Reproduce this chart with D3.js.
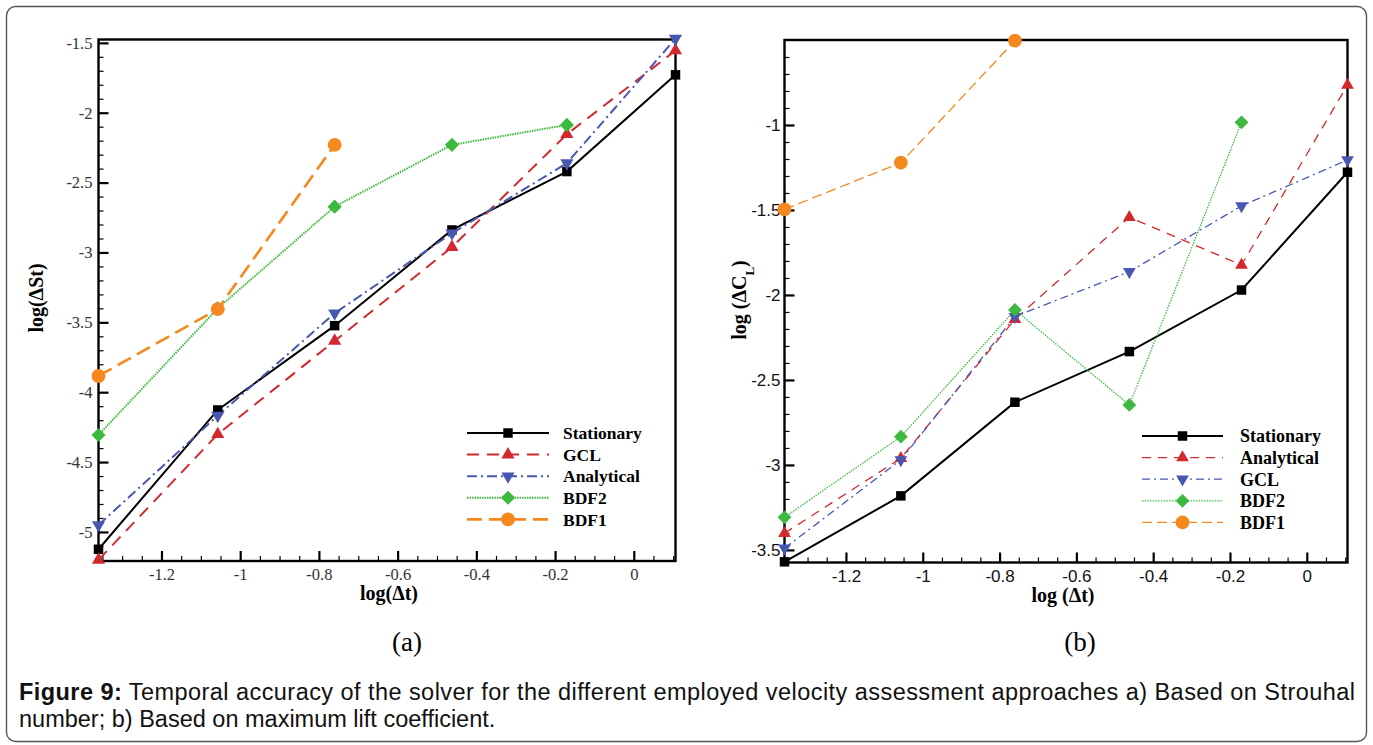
<!DOCTYPE html>
<html>
<head>
<meta charset="utf-8">
<script src="https://cdn.jsdelivr.net/npm/d3@7"></script>
<style>
  body { margin: 0; background: #fff; }
  svg { display: block; }
</style>
</head>
<body>
<svg id="fig" width="1373" height="745"></svg>
<script>
// log10 of the time step, shared by both panels
var logDt = [-1.36, -1.057, -0.76, -0.462, -0.17, 0.106];

// panel (a): log of the Strouhal number error
var stStationary = [-5.124, -4.127, -3.524, -2.839, -2.421, -1.729];
var stGCL        = [-5.2, -4.301, -3.633, -2.962, -2.154, -1.555];
var stAnalytical = [-4.95, -4.168, -3.435, -2.862, -2.361, -1.47];
var stBDF2       = [-4.306, -3.4, -2.672, -2.23, -2.087];
var stBDF1       = [-3.884, -3.406, -2.23];

// panel (b): log of the max lift coefficient error
var clStationary = [-3.57, -3.182, -2.631, -2.333, -1.971, -1.278];
var clAnalytical = [-3.402, -2.961, -2.143, -1.543, -1.824, -0.765];
var clGCL        = [-3.49, -2.97, -2.127, -1.863, -1.476, -1.206];
var clBDF2       = [-3.308, -2.834, -2.088, -2.647, -0.984];
var clBDF1       = [-1.496, -1.222, -0.504];

var xTicks  = [-1.2, -1, -0.8, -0.6, -0.4, -0.2, 0];
var stTicks = [-5, -4.5, -4, -3.5, -3, -2.5, -2, -1.5];
var clTicks = [-3.5, -3, -2.5, -2, -1.5, -1];

var legendA = ['Stationary', 'GCL', 'Analytical', 'BDF2', 'BDF1'];
var legendB = ['Stationary', 'Analytical', 'GCL', 'BDF2', 'BDF1'];

var RED = '#d3282c', BLUE = '#4858b0', GREEN = '#3dba3d', ORANGE = '#f5881f';
var SERIF = '"Liberation Serif", "Times New Roman", serif';
var SANS = '"Liberation Sans", Arial, sans-serif';

var svg = d3.select('#fig');

// outer card
svg.append('rect')
  .attr('x', 6.5).attr('y', 6.5)
  .attr('width', 1360).attr('height', 735)
  .attr('rx', 9)
  .attr('fill', 'none')
  .attr('stroke', '#555')
  .attr('stroke-width', 1.4);

function symbolPath(kind, size) {
  var type = {
    square: d3.symbolSquare, up: d3.symbolTriangle, down: d3.symbolTriangle,
    diamond: d3.symbolSquare, circle: d3.symbolCircle
  }[kind];
  return d3.symbol().type(type).size(size)();
}
function symbolRotate(kind) {
  if (kind === 'down') return 180;
  if (kind === 'diamond') return 45;
  return 0;
}

function range(lo, hi, step) {
  var out = [];
  for (var i = Math.ceil(lo / step - 1e-6); i * step <= hi + 1e-6; i++) out.push(+(i * step).toFixed(3));
  return out;
}

function drawPanel(o) {
  var g = svg.append('g');
  var x = d3.scaleLinear().domain([logDt[0], logDt[5]]).range(o.xRange);
  var y = d3.scaleLinear().domain(o.yDomain).range(o.yRange);

  var x0 = o.xRange[0], x1 = o.xRange[1], yTop = o.yRange[1], yBot = o.yRange[0];

  // minor and major ticks, all pointing into the plot
  var xMinor = range(-1.35, 0.1, 0.05).filter(function(v) { return xTicks.indexOf(v) < 0; });
  var yMinor = range(o.yDomain[0], o.yDomain[1], 0.1).filter(function(v) {
    return Math.abs(v * 2 - Math.round(v * 2)) > 1e-6;
  });

  g.append('g').attr('class', 'minor').attr('transform', 'translate(0,' + yBot + ')')
    .call(d3.axisBottom(x).tickValues(xMinor).tickSize(-5).tickFormat(''));
  g.append('g').attr('class', 'minor').attr('transform', 'translate(' + x0 + ',0)')
    .call(d3.axisLeft(y).tickValues(yMinor).tickSize(-5).tickFormat(''));

  g.append('g').attr('class', 'major').attr('transform', 'translate(0,' + yBot + ')')
    .call(d3.axisBottom(x).tickValues(xTicks).tickSize(-10).tickPadding(7)
      .tickFormat(function(d) { return String(d); }));
  g.append('g').attr('class', 'major').attr('transform', 'translate(' + x0 + ',0)')
    .call(d3.axisLeft(y).tickValues(o.yTicks).tickSize(-10).tickPadding(o.yPad)
      .tickFormat(function(d) { return String(d); }));

  g.selectAll('.domain').remove();
  g.selectAll('.minor line').attr('stroke', '#000').attr('stroke-width', 1.2);
  g.selectAll('.major line').attr('stroke', '#000').attr('stroke-width', 2.2);
  g.selectAll('.major text')
    .style('font-family', o.tickFont)
    .style('font-size', o.tickSize + 'px')
    .attr('fill', o.tickColor);

  // plot frame
  g.append('rect')
    .attr('x', x0).attr('y', yTop)
    .attr('width', x1 - x0).attr('height', yBot - yTop)
    .attr('fill', 'none').attr('stroke', '#000').attr('stroke-width', 2.4);

  var line = d3.line()
    .x(function(d, i) { return x(logDt[i]); })
    .y(function(d) { return y(d); });

  o.series.forEach(function(s) {
    g.append('path')
      .datum(s.values)
      .attr('d', line)
      .attr('fill', 'none')
      .attr('stroke', s.color)
      .attr('stroke-width', s.width)
      .attr('stroke-dasharray', s.dash);
  });
  o.series.forEach(function(s) {
    g.selectAll(null)
      .data(s.values)
      .enter().append('path')
      .attr('d', symbolPath(s.mark, s.size))
      .attr('transform', function(d, i) {
        return 'translate(' + x(logDt[i]) + ',' + y(d) + ') rotate(' + symbolRotate(s.mark) + ')';
      })
      .attr('fill', s.color);
  });

  // legend
  var leg = g.append('g');
  o.legend.forEach(function(name, i) {
    var s = o.series.filter(function(d) { return d.name === name; })[0];
    var ly = o.legendY + i * o.legendStep;
    leg.append('line')
      .attr('x1', o.legendX[0]).attr('x2', o.legendX[1])
      .attr('y1', ly).attr('y2', ly)
      .attr('stroke', s.color)
      .attr('stroke-width', s.width)
      .attr('stroke-dasharray', s.dash);
    leg.append('path')
      .attr('d', symbolPath(s.mark, s.size))
      .attr('transform', 'translate(' + ((o.legendX[0] + o.legendX[1]) / 2) + ',' + ly + ') rotate(' + symbolRotate(s.mark) + ')')
      .attr('fill', s.color);
    leg.append('text')
      .attr('x', o.legendX[2]).attr('y', ly)
      .attr('dy', '0.35em')
      .style('font-family', SERIF)
      .attr('font-weight', 'bold')
      .attr('font-size', o.legendFont)
      .text(name);
  });

  // axis titles
  g.append('text')
    .attr('x', o.xTitle[0]).attr('y', o.xTitle[1])
    .attr('text-anchor', 'middle')
    .style('font-family', SERIF)
    .attr('font-weight', 'bold')
    .attr('font-size', 20)
    .text(o.xLabel);

  var yt = g.append('text')
    .attr('transform', 'translate(' + o.yTitle[0] + ',' + o.yTitle[1] + ') rotate(-90)')
    .attr('text-anchor', 'middle')
    .style('font-family', SERIF)
    .attr('font-weight', 'bold')
    .attr('font-size', 20);
  o.yLabel.forEach(function(part) {
    var t = yt.append('tspan').text(part.t);
    if (part.sub) t.attr('font-size', 13).attr('baseline-shift', 'sub');
  });

  // panel tag
  g.append('text')
    .attr('x', o.tag[0]).attr('y', o.tag[1])
    .attr('text-anchor', 'middle')
    .style('font-family', SERIF)
    .attr('font-size', 27)
    .text(o.tag[2]);
}

drawPanel({
  xRange: [98.5, 675.5],
  yDomain: [-5.208, -1.476],
  yRange: [561, 39.5],
  yTicks: stTicks,
  yPad: 6,
  tickFont: SERIF,
  tickSize: 16.5,
  tickColor: '#333',
  series: [
    { name: 'Stationary', values: stStationary, color: '#000', width: 2, dash: null, mark: 'square', size: 90 },
    { name: 'GCL', values: stGCL, color: RED, width: 2, dash: '12,8', mark: 'up', size: 75 },
    { name: 'Analytical', values: stAnalytical, color: BLUE, width: 2, dash: '10,4,2,4', mark: 'down', size: 75 },
    { name: 'BDF2', values: stBDF2, color: GREEN, width: 2, dash: '1.5,1', mark: 'diamond', size: 100 },
    { name: 'BDF1', values: stBDF1, color: ORANGE, width: 2.6, dash: '15,7', mark: 'circle', size: 150 }
  ],
  legend: legendA,
  legendX: [467, 549, 563],
  legendY: 433,
  legendStep: 21.6,
  legendFont: 17.5,
  xLabel: 'log(\u0394t)',
  xTitle: [389, 600],
  yLabel: [{ t: 'log(\u0394St)' }],
  yTitle: [43, 298],
  tag: [407, 651, '(a)']
});

drawPanel({
  xRange: [784.5, 1347.5],
  yDomain: [-3.574, -0.5],
  yRange: [562.5, 40],
  yTicks: clTicks,
  yPad: 4,
  tickFont: SANS,
  tickSize: 17,
  tickColor: '#111',
  series: [
    { name: 'Stationary', values: clStationary, color: '#000', width: 2, dash: null, mark: 'square', size: 90 },
    { name: 'Analytical', values: clAnalytical, color: RED, width: 1.3, dash: '9,7', mark: 'up', size: 70 },
    { name: 'GCL', values: clGCL, color: BLUE, width: 1.3, dash: '8,4,2,4', mark: 'down', size: 70 },
    { name: 'BDF2', values: clBDF2, color: GREEN, width: 1.3, dash: '1.5,1.2', mark: 'diamond', size: 95 },
    { name: 'BDF1', values: clBDF1, color: ORANGE, width: 1.3, dash: '10,5', mark: 'circle', size: 150 }
  ],
  legend: legendB,
  legendX: [1142, 1223, 1240],
  legendY: 436,
  legendStep: 21.6,
  legendFont: 18,
  xLabel: 'log (\u0394t)',
  xTitle: [1063, 602],
  yLabel: [{ t: 'log (\u0394C' }, { t: 'L', sub: true }, { t: ')' }],
  yTitle: [746, 300],
  tag: [1080, 651, '(b)']
});

// caption, first line set justified to the card width
var cap = svg.append('g')
  .style('font-family', SANS)
  .attr('font-size', 23.5)
  .attr('fill', '#111');
var line1 = cap.append('text').attr('x', 19).attr('y', 700)
  .attr('textLength', 1336).attr('lengthAdjust', 'spacing');
line1.append('tspan').attr('font-weight', 'bold').text('Figure 9:');
line1.append('tspan').text(' Temporal accuracy of the solver for the different employed velocity assessment approaches a) Based on Strouhal');
cap.append('text').attr('x', 19).attr('y', 727)
  .text('number; b) Based on maximum lift coefficient.');
</script>
</body>
</html>
